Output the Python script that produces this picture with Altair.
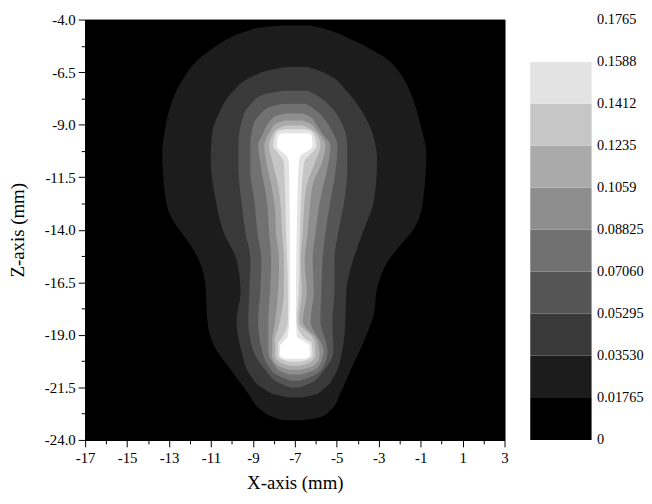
import altair as alt
import pandas as pd

FONT = "Liberation Serif"

# contour band boundaries of the colour bar
level_values = [0, 0.01765, 0.0353, 0.05295, 0.0706, 0.08825, 0.1059, 0.1235, 0.1412, 0.1588, 0.1765]
band_colors = ["#000000", "#1c1c1c", "#393939", "#555555", "#717171",
               "#8e8e8e", "#aaaaaa", "#c6c6c6", "#e3e3e3", "#ffffff"]

x_ticks = [-17, -16, -15, -14, -13, -12, -11, -10, -9, -8, -7, -6, -5, -4, -3, -2, -1, 0, 1, 2, 3]
z_ticks = [-4.0, -5.25, -6.5, -7.75, -9.0, -10.25, -11.5, -12.75, -14.0, -15.25,
           -16.5, -17.75, -19.0, -20.25, -21.5, -22.75, -24.0]

# filled-contour regions: (z, left x, right x) for each level
c1 = [(-4.28, -7.66, -6.34), (-4.38, -8.65, -5.82), (-4.56, -9.31, -5.21), (-4.85, -10.07, -4.50),
      (-5.27, -10.77, -3.65), (-5.88, -11.58, -2.61), (-6.82, -12.33, -1.81), (-8.00, -12.90, -1.29),
      (-9.18, -13.18, -0.96), (-10.35, -13.32, -0.73), (-12.00, -13.23, -0.82), (-13.41, -12.90, -1.06),
      (-14.12, -12.42, -1.44), (-14.82, -11.92, -2.04), (-15.44, -11.58, -2.52), (-16.80, -11.25, -3.08),
      (-18.02, -11.20, -3.23), (-19.29, -10.96, -3.70), (-20.71, -10.02, -4.36), (-21.79, -9.22, -4.83),
      (-22.59, -8.60, -5.30), (-22.92, -8.04, -5.78), (-23.06, -7.57, -6.62)]
c2 = [(-6.26, -7.42, -6.39), (-6.40, -8.18, -5.92), (-6.68, -8.98, -5.30), (-7.44, -9.97, -4.50),
      (-8.38, -10.58, -3.79), (-9.51, -10.96, -3.27), (-10.68, -11.01, -3.08), (-12.61, -10.77, -3.23),
      (-14.12, -10.40, -3.75), (-15.44, -9.78, -4.22), (-16.94, -9.59, -4.55), (-18.35, -9.78, -4.59),
      (-19.76, -9.55, -4.74), (-20.94, -9.12, -5.11), (-21.55, -8.51, -5.58), (-21.88, -7.80, -6.15),
      (-21.98, -7.33, -6.62)]
c3 = [(-7.39, -7.57, -6.39), (-7.58, -8.51, -6.01), (-8.09, -9.17, -5.35), (-8.71, -9.50, -4.88),
      (-9.98, -9.69, -4.50), (-11.06, -9.69, -4.50), (-12.61, -9.55, -4.64), (-14.12, -9.36, -4.93),
      (-15.44, -9.12, -5.11), (-16.94, -9.17, -5.11), (-18.35, -9.22, -5.21), (-19.76, -8.98, -5.16),
      (-20.71, -8.37, -5.63), (-21.27, -7.80, -6.20), (-21.51, -7.24, -6.76)]
c4 = [(-8.00, -7.57, -6.48), (-8.14, -8.13, -6.25), (-8.56, -8.70, -5.73), (-9.18, -9.03, -5.30),
      (-9.98, -9.12, -4.97), (-11.29, -9.12, -5.07), (-12.61, -8.93, -5.30), (-14.12, -8.79, -5.54),
      (-15.44, -8.60, -5.68), (-16.94, -8.65, -5.73), (-18.35, -8.75, -5.78), (-19.76, -8.56, -5.44),
      (-20.47, -8.27, -5.63), (-20.94, -7.80, -6.10), (-21.18, -7.24, -6.76)]
c5 = [(-8.47, -7.47, -6.62), (-8.61, -7.94, -6.29), (-8.94, -8.27, -6.01), (-9.51, -8.56, -5.63),
      (-9.98, -8.75, -5.30), (-10.82, -8.65, -5.40), (-12.71, -8.32, -5.82), (-14.12, -8.23, -6.01),
      (-15.44, -8.13, -6.15), (-16.94, -8.18, -6.10), (-18.35, -8.27, -6.25), (-19.76, -8.27, -5.63),
      (-20.42, -7.99, -5.82), (-20.75, -7.66, -6.25), (-20.89, -7.24, -6.76)]
c6 = [(-8.80, -7.47, -6.62), (-8.94, -7.90, -6.29), (-9.32, -8.18, -5.92), (-9.98, -8.46, -5.54),
      (-10.73, -8.37, -5.68), (-11.86, -8.13, -6.15), (-13.08, -7.94, -6.29), (-14.12, -7.90, -6.39),
      (-15.53, -7.75, -6.53), (-16.94, -7.80, -6.43), (-18.35, -7.94, -6.62), (-19.29, -8.08, -5.92),
      (-20.00, -8.08, -5.82), (-20.47, -7.80, -6.10), (-20.66, -7.24, -6.76)]
c7 = [(-9.04, -7.42, -6.62), (-9.18, -7.80, -6.29), (-9.51, -8.08, -5.92), (-9.98, -8.23, -5.78),
      (-10.73, -8.08, -6.01), (-11.86, -7.80, -6.43), (-13.08, -7.66, -6.57), (-14.12, -7.61, -6.62),
      (-15.53, -7.52, -6.72), (-16.94, -7.52, -6.67), (-18.35, -7.71, -6.81), (-19.29, -7.94, -6.06),
      (-20.00, -7.94, -6.01), (-20.33, -7.66, -6.29), (-20.47, -7.24, -6.76)]
c8 = [(-9.22, -7.42, -6.57), (-9.32, -7.85, -6.20), (-9.65, -7.99, -6.01), (-10.02, -8.04, -5.96),
      (-10.35, -7.80, -6.20), (-10.82, -7.52, -6.57), (-14.12, -7.42, -6.76), (-16.94, -7.33, -6.81),
      (-18.35, -7.33, -6.91), (-19.20, -7.66, -6.48), (-19.39, -7.80, -6.20), (-20.00, -7.80, -6.15),
      (-20.19, -7.57, -6.39), (-20.28, -7.24, -6.72)]
c9 = [(-9.41, -7.61, -6.39), (-9.51, -7.80, -6.20), (-10.02, -7.85, -6.15), (-10.26, -7.66, -6.39),
      (-10.45, -7.42, -6.72), (-10.82, -7.28, -6.81), (-14.12, -7.24, -6.91), (-17.41, -7.24, -6.95),
      (-19.06, -7.33, -6.91), (-19.39, -7.61, -6.43), (-19.53, -7.71, -6.29), (-20.00, -7.71, -6.29),
      (-20.14, -7.47, -6.53)]

contours = [c1, c2, c3, c4, c5, c6, c7, c8, c9]

rows = []
for k, c in enumerate(contours, start=1):
    for z, xl, xr in c:
        rows.append({"level": k, "z": z, "xl": xl, "xr": xr})
df = pd.DataFrame(rows)

x_axis = alt.Axis(
    values=x_ticks, grid=False, labelFlush=False,
    labelExpr="datum.value % 2 != 0 ? '' + datum.value : ''",
    tickSize={"condition": {"test": "datum.value % 2 != 0", "value": 7}, "value": 4},
    labelPadding=4, title="X-axis (mm)", titlePadding=8,
)
y_axis = alt.Axis(
    values=z_ticks, grid=False, labelFlush=False,
    labelExpr="abs(round((datum.value + 4) / 1.25)) % 2 == 0 ? "
              "(datum.value < 0 ? '-' : '') + format(abs(datum.value), '.1f') : ''",
    tickSize={"condition": {"test": "abs(round((datum.value + 4) / 1.25)) % 2 == 0", "value": 7}, "value": 4},
    labelPadding=3, title="Z-axis (mm)", titlePadding=17,
)

xs = alt.Scale(domain=[-17, 3], nice=False, zero=False)
zs = alt.Scale(domain=[-24, -4], nice=False, zero=False)

layers = []
for k in range(1, 10):
    layers.append(
        alt.Chart(df)
        .transform_filter(alt.datum.level == k)
        .mark_area(orient="horizontal", color=band_colors[k], interpolate="monotone")
        .encode(
            y=alt.Y("z:Q", scale=zs, axis=y_axis),
            x=alt.X("xl:Q", scale=xs, axis=x_axis),
            x2="xr:Q",
        )
    )

main = alt.layer(*layers).properties(
    width=424, height=425,
    view=alt.ViewBackground(fill="black", stroke="black"),
)

cb_df = pd.DataFrame({"lo": level_values[:-1], "hi": level_values[1:], "color": band_colors})
colorbar = (
    alt.Chart(cb_df)
    .mark_rect()
    .encode(
        y=alt.Y("lo:Q", scale=alt.Scale(domain=[0, 0.1765], nice=False, zero=False),
                axis=alt.Axis(orient="right", values=level_values, domain=False, ticks=False,
                              grid=False, title="", labelPadding=5, labelFlush=False,
                              labelFontSize=14.5,
                              labelExpr="datum.value == 0 ? '0' : format(datum.value, '.4r')")),
        y2="hi:Q",
        x=alt.value(0), x2=alt.value(62),
        color=alt.Color("color:N", scale=None, legend=None),
    )
    .properties(width=62, height=425, view=alt.ViewBackground(stroke="transparent"))
)

chart = (
    alt.hconcat(main, colorbar, spacing=20)
    .properties(padding={"left": 0, "top": 0, "right": 0, "bottom": 0})
    .configure_axis(labelFont=FONT, titleFont=FONT, labelFontSize=15, titleFontSize=19,
                    titleFontWeight="normal", labelColor="black", titleColor="black",
                    tickColor="black", domainColor="black", tickWidth=1)
)

chart.save("out.html", embed_options={"renderer": "svg", "actions": False})
